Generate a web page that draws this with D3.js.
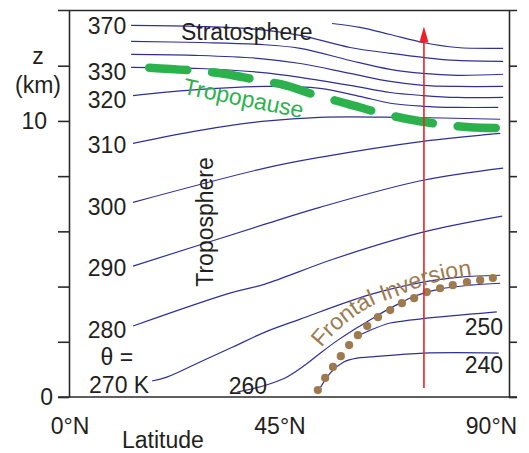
<!DOCTYPE html>
<html><head><meta charset="utf-8">
<script src="https://cdn.jsdelivr.net/npm/d3@7"></script>
<style>body{margin:0;background:#fff}svg{display:block}</style>
</head><body><svg id="c" width="529" height="453"></svg>
<script>
// ---------- data ----------
const latTicks = [0, 45, 90];
const latTickLabels = ["0°N", "45°N", "90°N"];
const zTicks = [0, 2, 4, 6, 8, 10, 12];
const zTickLabels = ["0", "", "", "", "", "10", ""];

// isentropes [latitude °N, height km]
const th380 = [[53.8,13.53],[59.5,13.39],[65.7,13.13],[72.4,12.84],[79.4,12.66],[88.8,12.63]];
const th370 = [[12.7,13.46],[26.8,13.42],[39.1,13.31],[47.3,13.10],[57.5,12.66],[65.7,12.45],[72.4,12.30],[79.4,12.19],[88.8,12.16]];
const th360 = [[12.7,12.88],[26.8,12.84],[39.1,12.77],[47.3,12.63],[57.5,12.19],[65.7,11.87],[72.4,11.72],[79.4,11.65],[88.8,11.69]];
const th350 = [[12.7,12.41],[26.8,12.37],[39.1,12.26],[47.3,12.08],[57.5,11.72],[65.7,11.43],[72.4,11.29],[79.4,11.25],[88.8,11.25]];
const th330 = [[12.7,11.94],[26.8,11.90],[39.1,11.76],[47.3,11.58],[57.5,11.29],[65.7,11.03],[72.4,10.92],[79.4,10.85],[88.8,10.85]];
const th320 = [[13.1,10.92],[26.8,11.14],[39.9,11.25],[51.3,11.18],[59.5,10.89],[65.7,10.64],[72.4,10.53],[79.4,10.49],[87.8,10.49]];
const th310 = [[13.1,9.19],[26.8,9.66],[40.1,9.99],[51.3,10.13],[67.7,10.13],[88.2,10.06]];
const th300 = [[13.1,7.05],[40.1,8.29],[51.3,8.68],[72.4,9.26],[88.2,9.55]];
const th290 = [[13.1,4.74],[40.1,6.26],[51.3,6.87],[72.4,7.85],[88.8,8.29]];
const th280 = [[13.1,2.57],[32.9,3.76],[40.1,4.09],[54.0,4.99],[72.4,5.97],[88.6,6.55]];
const th270 = [[17.0,0.58],[20.0,0.72],[26.8,1.27],[33.5,1.81],[40.1,2.35],[47.3,2.82],[61.2,3.69],[72.4,4.16],[80.0,4.34],[88.2,4.41]];
const th260 = [[34.4,0.18],[39.7,0.40],[44.2,0.69],[48.3,1.16],[51.7,1.63],[55.0,2.06],[58.1,2.42],[61.2,2.75],[64.6,3.11],[67.7,3.40],[70.6,3.65],[75.9,3.91],[82.0,4.05],[88.2,4.12]];
const th250 = [[59.9,2.28],[61.6,2.42],[65.7,2.68],[68.3,2.75],[75.3,2.89],[82.0,3.00],[87.5,3.08]];
const th240 = [[51.1,0.25],[53.6,0.90],[56.2,1.27],[58.9,1.41],[61.6,1.45],[72.6,1.59],[87.9,1.59]];

const tropopause = [[16.4,11.93],[25.0,11.83],[32.0,11.70],[38.0,11.50],[44.5,11.28],[50.5,10.93],[57.0,10.62],[63.2,10.31],[69.5,10.06],[75.9,9.88],[82.0,9.77],[88.4,9.74]];
const frontalInversion = [[50.9,0.25],[52.4,0.69],[54.0,1.09],[55.6,1.48],[57.3,1.88],[59.1,2.24],[61.0,2.57],[63.2,2.89],[65.7,3.15],[68.1,3.40],[70.6,3.58],[73.2,3.80],[75.9,3.94],[78.5,4.05],[81.4,4.16],[84.1,4.23],[86.7,4.31]];
// baseline along which the "Frontal Inversion" label is written
const frontalLabelPath = [[49.9,1.41],[53.4,2.14],[57.5,2.79],[62.0,3.30],[66.7,3.62],[71.8,3.98],[76.9,4.24],[83.0,4.42],[88.0,4.52]];
const frontalLabelWords = ["Frontal", "Inversion"];
const sounding = {lat: 72.6, zBottom: 0.33, zTop: 13.42};

const isoLabels = [
  {t:"370", lat:11.7, z:13.15, a:"end"},
  {t:"330", lat:11.7, z:11.48, a:"end"},
  {t:"320", lat:11.7, z:10.47, a:"end"},
  {t:"310", lat:11.7, z:8.84, a:"end"},
  {t:"300", lat:11.7, z:6.59, a:"end"},
  {t:"290", lat:11.7, z:4.38, a:"end"},
  {t:"280", lat:11.7, z:2.14, a:"end"},
  {t:"θ =", lat:9.8, z:1.16, a:"middle"},
  {t:"270 K", lat:16.4, z:0.14, a:"end"},
  {t:"260", lat:40.5, z:0.11, a:"end"},
  {t:"250", lat:88.8, z:2.25, a:"end"},
  {t:"240", lat:88.8, z:0.87, a:"end"}
];

// ---------- drawing ----------
const svg = d3.select("#c");
const FONT = "'Liberation Sans', Arial, Helvetica, sans-serif";
const FS = 23;
const x = d3.scaleLinear().domain([0, 90]).range([69, 509]);
const z = d3.scaleLinear().domain([0, 14]).range([397, 10.5]);
const AX = "#2a2a2a", BLUE = "#2e3192", GREEN = "#2bb24c", BROWN = "#9d7b4e", RED = "#ec2227";

// frame
svg.append("line").attr("x1", x(0) - 11).attr("x2", x(90) + 8).attr("y1", z(14)).attr("y2", z(14)).attr("stroke", AX).attr("stroke-width", 1.6);
svg.append("line").attr("x1", x(0) - 11).attr("x2", x(90) + 8).attr("y1", z(0)).attr("y2", z(0)).attr("stroke", AX).attr("stroke-width", 1.6);
const gl = svg.append("g").attr("transform", `translate(${x(0)},0)`)
  .call(d3.axisLeft(z).tickValues(zTicks).tickSize(11).tickSizeOuter(0).tickFormat(""));
const gr = svg.append("g").attr("transform", `translate(${x(90)},0)`)
  .call(d3.axisRight(z).tickValues(zTicks).tickSize(8).tickSizeOuter(0).tickFormat(""));
[gl, gr].forEach(g => { g.selectAll("path,line").attr("stroke", AX).attr("stroke-width", 1.6); });

// y labels
const yLabDx = {0: 53, 10: 47};
zTicks.forEach((v, i) => {
  if (!zTickLabels[i]) return;
  svg.append("text").attr("x", yLabDx[v]).attr("y", z(v) + 8).attr("text-anchor", "end")
    .attr("font-family", FONT).attr("font-size", FS).attr("fill", "#231f20").text(zTickLabels[i]);
});
svg.append("text").attr("x", 38).attr("y", 64).attr("text-anchor", "middle").attr("font-family", FONT).attr("font-size", FS).attr("fill", "#231f20").text("z");
svg.append("text").attr("x", 38).attr("y", 93).attr("text-anchor", "middle").attr("font-family", FONT).attr("font-size", FS).attr("fill", "#231f20").text("(km)");

// x labels
const xLabDx = [1, -9, -17.5];
latTicks.forEach((v, i) => {
  svg.append("text").attr("x", x(v) + xLabDx[i]).attr("y", 434).attr("text-anchor", "middle")
    .attr("font-family", FONT).attr("font-size", FS).attr("fill", "#231f20").text(latTickLabels[i]);
});
svg.append("text").attr("x", 122).attr("y", 448).attr("font-family", FONT).attr("font-size", FS).attr("fill", "#231f20").text("Latitude");

// isentropes
const line = d3.line().x(d => x(d[0])).y(d => z(d[1])).curve(d3.curveCatmullRom.alpha(0.5));
[th380, th370, th360, th350, th330, th320, th310, th300, th290, th280, th270, th260, th250, th240].forEach(p => {
  svg.append("path").attr("d", line(p)).attr("fill", "none").attr("stroke", BLUE).attr("stroke-width", 1.2);
});

// tropopause
svg.append("path").attr("d", line(tropopause)).attr("fill", "none").attr("stroke", GREEN)
  .attr("stroke-width", 8.5).attr("stroke-linecap", "round").attr("stroke-dasharray", "38 25");

// frontal inversion dots
svg.selectAll("circle.fi").data(frontalInversion).enter().append("circle").attr("class", "fi")
  .attr("cx", d => x(d[0])).attr("cy", d => z(d[1])).attr("r", 4.1).attr("fill", BROWN);

// red sounding arrow
const ax0 = x(sounding.lat), yTip = z(sounding.zTop);
svg.append("line").attr("x1", ax0).attr("x2", ax0).attr("y1", z(sounding.zBottom)).attr("y2", yTip + 14)
  .attr("stroke", RED).attr("stroke-width", 1.6);
svg.append("path").attr("d", `M${ax0},${yTip}L${ax0 - 4.6},${yTip + 16}L${ax0 + 4.6},${yTip + 16}Z`).attr("fill", RED);

// isentrope labels
isoLabels.forEach(l => {
  svg.append("text").attr("x", x(l.lat)).attr("y", z(l.z)).attr("text-anchor", l.a)
    .attr("font-family", FONT).attr("font-size", FS).attr("fill", "#231f20").text(l.t);
});

// region labels
svg.append("text").attr("x", x(22.9)).attr("y", z(12.93)).attr("font-family", FONT).attr("font-size", FS).attr("fill", "#231f20").text("Stratosphere");
svg.append("text").attr("transform", `translate(${x(29.45)},${z(6.34)}) rotate(-90)`).attr("text-anchor", "middle")
  .attr("font-family", FONT).attr("font-size", FS).attr("fill", "#231f20").text("Troposphere");
svg.append("text").attr("transform", `translate(${x(35.4)},${z(10.54)}) rotate(11.5)`).attr("text-anchor", "middle")
  .attr("font-family", FONT).attr("font-size", FS).attr("fill", GREEN).text("Tropopause");

// "Frontal Inversion" written along a curved baseline, one word per textPath
svg.append("defs").append("path").attr("id", "fiPath").attr("d", line(frontalLabelPath));
let offset = 13;
frontalLabelWords.forEach(w => {
  const t = svg.append("text").attr("font-family", FONT).attr("font-size", FS).attr("fill", BROWN);
  t.append("textPath").attr("href", "#fiPath").attr("startOffset", offset).text(w);
  const probe = svg.append("text").attr("font-family", FONT).attr("font-size", FS).text(w + "\u00A0");
  offset += probe.node().getComputedTextLength();
  probe.remove();
});
</script>
</body></html>
